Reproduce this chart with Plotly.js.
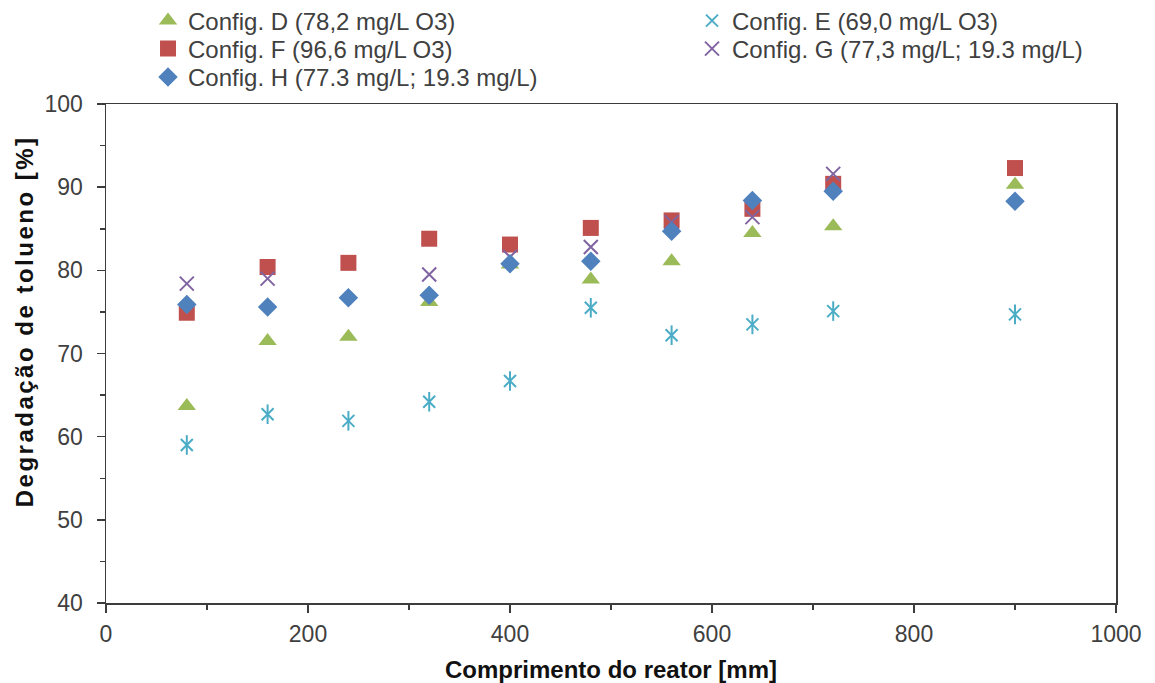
<!DOCTYPE html>
<html>
<head>
<meta charset="utf-8">
<script src="https://cdn.plot.ly/plotly-3.0.1.min.js"></script>
<style>
  html, body { margin: 0; padding: 0; background: #ffffff; }
  #chart { width: 1155px; height: 683px; }
  /* widen the vertical axis title a little */
  #chart .annotation-text { letter-spacing: 2.5px; }
</style>
</head>
<body>
<div id="chart"></div>
<script>
// Reactor length positions [mm]
const comprimento = [80, 160, 240, 320, 400, 480, 560, 640, 720, 900];

// Toluene degradation [%] per configuration
const configD = [63.7, 71.5, 72.0, 76.2, 80.7, 78.9, 81.1, 84.5, 85.3, 90.3];
const configE = [59.0, 62.7, 61.9, 64.2, 66.7, 75.5, 72.2, 73.5, 75.1, 74.7];
const configF = [74.9, 80.4, 80.9, 83.8, 83.1, 85.1, 86.0, 87.4, 90.4, 92.3];
const configG = [78.4, 79.0, null, 79.5, 81.6, 82.8, 85.8, 86.4, 91.6, null];
const configH = [75.9, 75.6, 76.7, 77.0, 80.8, 81.1, 84.7, 88.4, 89.5, 88.3];

const nomes = {
  D: 'Config. D (78,2 mg/L O3)',
  E: 'Config. E (69,0 mg/L O3)',
  F: 'Config. F (96,6 mg/L O3)',
  G: 'Config. G (77,3 mg/L; 19.3 mg/L)',
  H: 'Config. H (77.3 mg/L; 19.3 mg/L)'
};

const tituloX = 'Comprimento do reator [mm]';
const tituloY = 'Degradação de tolueno [%]';

const FONT = 'Liberation Sans, Arial, sans-serif';
const TXT = '#404040';
const AX = '#3c3c3c';

const traces = [
  {
    x: comprimento, y: configD, name: nomes.D, type: 'scatter', mode: 'markers',
    legend: 'legend',
    marker: { symbol: 'triangle-up', size: 16, color: '#9BBB59' }
  },
  {
    x: comprimento, y: configE, name: nomes.E, type: 'scatter', mode: 'markers',
    legend: 'legend4', legendgroup: 'E',
    marker: { symbol: 'x-thin-open', size: 12, color: '#4BACC6', line: { width: 2, color: '#4BACC6' } }
  },
  {
    // vertical stroke completing the asterisk marker of series E
    x: comprimento, y: configE, name: nomes.E, type: 'scatter', mode: 'markers',
    legend: 'legend4', legendgroup: 'E', showlegend: false,
    marker: { symbol: 'line-ns-open', size: 14, color: '#4BACC6', line: { width: 2, color: '#4BACC6' } }
  },
  {
    x: comprimento, y: configF, name: nomes.F, type: 'scatter', mode: 'markers',
    legend: 'legend2',
    marker: { symbol: 'square', size: 16, color: '#C0504D' }
  },
  {
    x: comprimento, y: configG, name: nomes.G, type: 'scatter', mode: 'markers',
    legend: 'legend5',
    marker: { symbol: 'x-thin-open', size: 14, color: '#8064A2', line: { width: 2, color: '#8064A2' } }
  },
  {
    x: comprimento, y: configH, name: nomes.H, type: 'scatter', mode: 'markers',
    legend: 'legend3',
    marker: { symbol: 'diamond', size: 15, color: '#4F81BD' }
  }
];

// one single-entry legend per slot: two columns, three rows
function legendAt(x, y) {
  return {
    orientation: 'v',
    itemwidth: 30,
    x: x, xanchor: 'left',
    y: y, yanchor: 'middle',
    font: { family: FONT, size: 24, color: TXT },
    bgcolor: 'rgba(0,0,0,0)',
    borderwidth: 0
  };
}

const layout = {
  width: 1155,
  height: 683,
  paper_bgcolor: '#ffffff',
  plot_bgcolor: '#ffffff',
  font: { family: FONT, size: 23, color: TXT },
  margin: { l: 106, r: 39, t: 104, b: 80, autoexpand: false },
  showlegend: true,
  legend: legendAt(0.0416, 1.1663),
  legend2: legendAt(0.0416, 1.1102),
  legend3: legendAt(0.0416, 1.0531),
  legend4: legendAt(0.5802, 1.1663),
  legend5: legendAt(0.5802, 1.1102),
  xaxis: {
    range: [0, 1000],
    dtick: 200,
    tick0: 0,
    ticks: 'outside',
    ticklen: 8,
    tickwidth: 1.5,
    tickcolor: AX,
    ticklabelstandoff: 2,
    showline: true,
    linecolor: AX,
    linewidth: 1.5,
    mirror: true,
    showgrid: false,
    zeroline: false,
    minor: { dtick: 100, ticks: 'outside', ticklen: 5, tickwidth: 1.5, tickcolor: AX, showgrid: false },
    tickfont: { family: FONT, size: 23, color: TXT },
    title: { text: '<b>' + tituloX + '</b>', font: { family: FONT, size: 24, color: '#111111' }, standoff: 16 }
  },
  yaxis: {
    range: [40, 100],
    dtick: 10,
    tick0: 40,
    ticks: 'outside',
    ticklen: 8,
    tickwidth: 1.5,
    tickcolor: AX,
    ticklabelstandoff: 9,
    showline: true,
    linecolor: AX,
    linewidth: 1.5,
    mirror: true,
    showgrid: false,
    zeroline: false,
    minor: { dtick: 5, ticks: 'outside', ticklen: 5, tickwidth: 1.5, tickcolor: AX, showgrid: false },
    tickfont: { family: FONT, size: 23, color: TXT }
  },
  annotations: [
    {
      // vertical axis title, set slightly above the plot's mid-height
      text: '<b>' + tituloY + '</b>',
      xref: 'paper', yref: 'paper',
      x: -0.0812, y: 0.565,
      xanchor: 'center', yanchor: 'middle',
      textangle: -90,
      showarrow: false,
      font: { family: FONT, size: 24, color: '#111111' }
    }
  ]
};

Plotly.newPlot('chart', traces, layout, { displayModeBar: false, staticPlot: true });
</script>
</body>
</html>
